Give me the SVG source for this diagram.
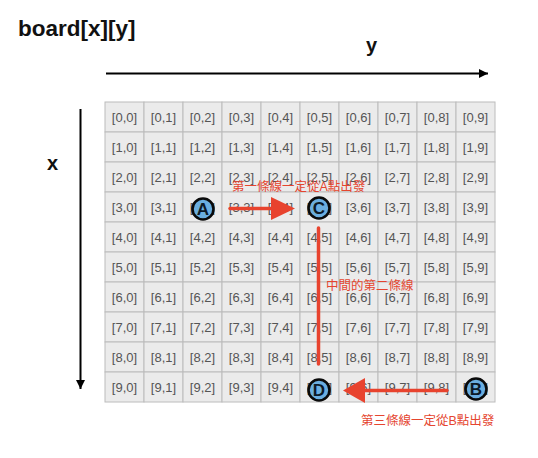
<svg xmlns="http://www.w3.org/2000/svg" width="538" height="458" viewBox="0 0 538 458">
<style>
.cell{fill:#ebebeb;stroke:#bcbcbc;stroke-width:1}
.ct{font-family:"Liberation Sans",Arial,sans-serif;font-size:13px;fill:#555;text-anchor:middle}
.ttl{font-family:"Liberation Sans",Arial,sans-serif;font-weight:bold;fill:#111}
.ax{stroke:#000;stroke-width:2;fill:none}
.node circle{fill:#6aaee0;stroke:#0a0a0a;stroke-width:2.6}
.node text{font-family:"Liberation Sans",Arial,sans-serif;font-weight:bold;font-size:17px;fill:#0c1a28;text-anchor:middle}
.red{stroke:#e8432e;stroke-width:3.5;fill:none;stroke-linecap:round}
.rh{fill:#e8432e}
.rt{font-family:"Liberation Sans","Noto Sans CJK TC",sans-serif;font-size:12.5px;fill:#e5452f}
</style>
<defs>
<marker id="ah" markerWidth="10" markerHeight="10" refX="9" refY="4.5" orient="auto" markerUnits="userSpaceOnUse"><path d="M0,0 L9,4.5 L0,9 Z" fill="#000"/></marker>
</defs>
<rect width="538" height="458" fill="#fff"/>
<text class="ttl" x="18" y="36" font-size="22.5">board[x][y]</text>
<text class="ttl" x="366" y="52" font-size="20">y</text>
<text class="ttl" x="47" y="170" font-size="20">x</text>
<line class="ax" x1="106" y1="73.5" x2="488" y2="73.5" marker-end="url(#ah)"/>
<line class="ax" x1="80.5" y1="109" x2="80.5" y2="389" marker-end="url(#ah)"/>
<g id="grid">
<g id="row0"><rect class="cell" x="105" y="102" width="39" height="30"/><text class="ct" x="124.5" y="122">[0,0]</text><rect class="cell" x="144" y="102" width="39" height="30"/><text class="ct" x="163.5" y="122">[0,1]</text><rect class="cell" x="183" y="102" width="39" height="30"/><text class="ct" x="202.5" y="122">[0,2]</text><rect class="cell" x="222" y="102" width="39" height="30"/><text class="ct" x="241.5" y="122">[0,3]</text><rect class="cell" x="261" y="102" width="39" height="30"/><text class="ct" x="280.5" y="122">[0,4]</text><rect class="cell" x="300" y="102" width="39" height="30"/><text class="ct" x="319.5" y="122">[0,5]</text><rect class="cell" x="339" y="102" width="39" height="30"/><text class="ct" x="358.5" y="122">[0,6]</text><rect class="cell" x="378" y="102" width="39" height="30"/><text class="ct" x="397.5" y="122">[0,7]</text><rect class="cell" x="417" y="102" width="39" height="30"/><text class="ct" x="436.5" y="122">[0,8]</text><rect class="cell" x="456" y="102" width="39" height="30"/><text class="ct" x="475.5" y="122">[0,9]</text></g>
<g id="row1"><rect class="cell" x="105" y="132" width="39" height="30"/><text class="ct" x="124.5" y="152">[1,0]</text><rect class="cell" x="144" y="132" width="39" height="30"/><text class="ct" x="163.5" y="152">[1,1]</text><rect class="cell" x="183" y="132" width="39" height="30"/><text class="ct" x="202.5" y="152">[1,2]</text><rect class="cell" x="222" y="132" width="39" height="30"/><text class="ct" x="241.5" y="152">[1,3]</text><rect class="cell" x="261" y="132" width="39" height="30"/><text class="ct" x="280.5" y="152">[1,4]</text><rect class="cell" x="300" y="132" width="39" height="30"/><text class="ct" x="319.5" y="152">[1,5]</text><rect class="cell" x="339" y="132" width="39" height="30"/><text class="ct" x="358.5" y="152">[1,6]</text><rect class="cell" x="378" y="132" width="39" height="30"/><text class="ct" x="397.5" y="152">[1,7]</text><rect class="cell" x="417" y="132" width="39" height="30"/><text class="ct" x="436.5" y="152">[1,8]</text><rect class="cell" x="456" y="132" width="39" height="30"/><text class="ct" x="475.5" y="152">[1,9]</text></g>
<g id="row2"><rect class="cell" x="105" y="162" width="39" height="30"/><text class="ct" x="124.5" y="182">[2,0]</text><rect class="cell" x="144" y="162" width="39" height="30"/><text class="ct" x="163.5" y="182">[2,1]</text><rect class="cell" x="183" y="162" width="39" height="30"/><text class="ct" x="202.5" y="182">[2,2]</text><rect class="cell" x="222" y="162" width="39" height="30"/><text class="ct" x="241.5" y="182">[2,3]</text><rect class="cell" x="261" y="162" width="39" height="30"/><text class="ct" x="280.5" y="182">[2,4]</text><rect class="cell" x="300" y="162" width="39" height="30"/><text class="ct" x="319.5" y="182">[2,5]</text><rect class="cell" x="339" y="162" width="39" height="30"/><text class="ct" x="358.5" y="182">[2,6]</text><rect class="cell" x="378" y="162" width="39" height="30"/><text class="ct" x="397.5" y="182">[2,7]</text><rect class="cell" x="417" y="162" width="39" height="30"/><text class="ct" x="436.5" y="182">[2,8]</text><rect class="cell" x="456" y="162" width="39" height="30"/><text class="ct" x="475.5" y="182">[2,9]</text></g>
<g id="row3"><rect class="cell" x="105" y="192" width="39" height="30"/><text class="ct" x="124.5" y="212">[3,0]</text><rect class="cell" x="144" y="192" width="39" height="30"/><text class="ct" x="163.5" y="212">[3,1]</text><rect class="cell" x="183" y="192" width="39" height="30"/><text class="ct" x="202.5" y="212">[3,2]</text><rect class="cell" x="222" y="192" width="39" height="30"/><text class="ct" x="241.5" y="212">[3,3]</text><rect class="cell" x="261" y="192" width="39" height="30"/><text class="ct" x="280.5" y="212">[3,4]</text><rect class="cell" x="300" y="192" width="39" height="30"/><text class="ct" x="319.5" y="212">[3,5]</text><rect class="cell" x="339" y="192" width="39" height="30"/><text class="ct" x="358.5" y="212">[3,6]</text><rect class="cell" x="378" y="192" width="39" height="30"/><text class="ct" x="397.5" y="212">[3,7]</text><rect class="cell" x="417" y="192" width="39" height="30"/><text class="ct" x="436.5" y="212">[3,8]</text><rect class="cell" x="456" y="192" width="39" height="30"/><text class="ct" x="475.5" y="212">[3,9]</text></g>
<g id="row4"><rect class="cell" x="105" y="222" width="39" height="30"/><text class="ct" x="124.5" y="242">[4,0]</text><rect class="cell" x="144" y="222" width="39" height="30"/><text class="ct" x="163.5" y="242">[4,1]</text><rect class="cell" x="183" y="222" width="39" height="30"/><text class="ct" x="202.5" y="242">[4,2]</text><rect class="cell" x="222" y="222" width="39" height="30"/><text class="ct" x="241.5" y="242">[4,3]</text><rect class="cell" x="261" y="222" width="39" height="30"/><text class="ct" x="280.5" y="242">[4,4]</text><rect class="cell" x="300" y="222" width="39" height="30"/><text class="ct" x="319.5" y="242">[4,5]</text><rect class="cell" x="339" y="222" width="39" height="30"/><text class="ct" x="358.5" y="242">[4,6]</text><rect class="cell" x="378" y="222" width="39" height="30"/><text class="ct" x="397.5" y="242">[4,7]</text><rect class="cell" x="417" y="222" width="39" height="30"/><text class="ct" x="436.5" y="242">[4,8]</text><rect class="cell" x="456" y="222" width="39" height="30"/><text class="ct" x="475.5" y="242">[4,9]</text></g>
<g id="row5"><rect class="cell" x="105" y="252" width="39" height="30"/><text class="ct" x="124.5" y="272">[5,0]</text><rect class="cell" x="144" y="252" width="39" height="30"/><text class="ct" x="163.5" y="272">[5,1]</text><rect class="cell" x="183" y="252" width="39" height="30"/><text class="ct" x="202.5" y="272">[5,2]</text><rect class="cell" x="222" y="252" width="39" height="30"/><text class="ct" x="241.5" y="272">[5,3]</text><rect class="cell" x="261" y="252" width="39" height="30"/><text class="ct" x="280.5" y="272">[5,4]</text><rect class="cell" x="300" y="252" width="39" height="30"/><text class="ct" x="319.5" y="272">[5,5]</text><rect class="cell" x="339" y="252" width="39" height="30"/><text class="ct" x="358.5" y="272">[5,6]</text><rect class="cell" x="378" y="252" width="39" height="30"/><text class="ct" x="397.5" y="272">[5,7]</text><rect class="cell" x="417" y="252" width="39" height="30"/><text class="ct" x="436.5" y="272">[5,8]</text><rect class="cell" x="456" y="252" width="39" height="30"/><text class="ct" x="475.5" y="272">[5,9]</text></g>
<g id="row6"><rect class="cell" x="105" y="282" width="39" height="30"/><text class="ct" x="124.5" y="302">[6,0]</text><rect class="cell" x="144" y="282" width="39" height="30"/><text class="ct" x="163.5" y="302">[6,1]</text><rect class="cell" x="183" y="282" width="39" height="30"/><text class="ct" x="202.5" y="302">[6,2]</text><rect class="cell" x="222" y="282" width="39" height="30"/><text class="ct" x="241.5" y="302">[6,3]</text><rect class="cell" x="261" y="282" width="39" height="30"/><text class="ct" x="280.5" y="302">[6,4]</text><rect class="cell" x="300" y="282" width="39" height="30"/><text class="ct" x="319.5" y="302">[6,5]</text><rect class="cell" x="339" y="282" width="39" height="30"/><text class="ct" x="358.5" y="302">[6,6]</text><rect class="cell" x="378" y="282" width="39" height="30"/><text class="ct" x="397.5" y="302">[6,7]</text><rect class="cell" x="417" y="282" width="39" height="30"/><text class="ct" x="436.5" y="302">[6,8]</text><rect class="cell" x="456" y="282" width="39" height="30"/><text class="ct" x="475.5" y="302">[6,9]</text></g>
<g id="row7"><rect class="cell" x="105" y="312" width="39" height="30"/><text class="ct" x="124.5" y="332">[7,0]</text><rect class="cell" x="144" y="312" width="39" height="30"/><text class="ct" x="163.5" y="332">[7,1]</text><rect class="cell" x="183" y="312" width="39" height="30"/><text class="ct" x="202.5" y="332">[7,2]</text><rect class="cell" x="222" y="312" width="39" height="30"/><text class="ct" x="241.5" y="332">[7,3]</text><rect class="cell" x="261" y="312" width="39" height="30"/><text class="ct" x="280.5" y="332">[7,4]</text><rect class="cell" x="300" y="312" width="39" height="30"/><text class="ct" x="319.5" y="332">[7,5]</text><rect class="cell" x="339" y="312" width="39" height="30"/><text class="ct" x="358.5" y="332">[7,6]</text><rect class="cell" x="378" y="312" width="39" height="30"/><text class="ct" x="397.5" y="332">[7,7]</text><rect class="cell" x="417" y="312" width="39" height="30"/><text class="ct" x="436.5" y="332">[7,8]</text><rect class="cell" x="456" y="312" width="39" height="30"/><text class="ct" x="475.5" y="332">[7,9]</text></g>
<g id="row8"><rect class="cell" x="105" y="342" width="39" height="30"/><text class="ct" x="124.5" y="362">[8,0]</text><rect class="cell" x="144" y="342" width="39" height="30"/><text class="ct" x="163.5" y="362">[8,1]</text><rect class="cell" x="183" y="342" width="39" height="30"/><text class="ct" x="202.5" y="362">[8,2]</text><rect class="cell" x="222" y="342" width="39" height="30"/><text class="ct" x="241.5" y="362">[8,3]</text><rect class="cell" x="261" y="342" width="39" height="30"/><text class="ct" x="280.5" y="362">[8,4]</text><rect class="cell" x="300" y="342" width="39" height="30"/><text class="ct" x="319.5" y="362">[8,5]</text><rect class="cell" x="339" y="342" width="39" height="30"/><text class="ct" x="358.5" y="362">[8,6]</text><rect class="cell" x="378" y="342" width="39" height="30"/><text class="ct" x="397.5" y="362">[8,7]</text><rect class="cell" x="417" y="342" width="39" height="30"/><text class="ct" x="436.5" y="362">[8,8]</text><rect class="cell" x="456" y="342" width="39" height="30"/><text class="ct" x="475.5" y="362">[8,9]</text></g>
<g id="row9"><rect class="cell" x="105" y="372" width="39" height="30"/><text class="ct" x="124.5" y="392">[9,0]</text><rect class="cell" x="144" y="372" width="39" height="30"/><text class="ct" x="163.5" y="392">[9,1]</text><rect class="cell" x="183" y="372" width="39" height="30"/><text class="ct" x="202.5" y="392">[9,2]</text><rect class="cell" x="222" y="372" width="39" height="30"/><text class="ct" x="241.5" y="392">[9,3]</text><rect class="cell" x="261" y="372" width="39" height="30"/><text class="ct" x="280.5" y="392">[9,4]</text><rect class="cell" x="300" y="372" width="39" height="30"/><text class="ct" x="319.5" y="392">[9,5]</text><rect class="cell" x="339" y="372" width="39" height="30"/><text class="ct" x="358.5" y="392">[9,6]</text><rect class="cell" x="378" y="372" width="39" height="30"/><text class="ct" x="397.5" y="392">[9,7]</text><rect class="cell" x="417" y="372" width="39" height="30"/><text class="ct" x="436.5" y="392">[9,8]</text><rect class="cell" x="456" y="372" width="39" height="30"/><text class="ct" x="475.5" y="392">[9,9]</text></g>
</g>
<g id="connectors">
<g id="line1"><line class="red" x1="230" y1="208.5" x2="275" y2="208.5"/><polygon class="rh" points="271,197 295,208.5 271,220"/></g>
<line id="line2" class="red" x1="318.5" y1="228" x2="318.5" y2="364"/>
<g id="line3"><line class="red" x1="447" y1="390.5" x2="362" y2="390.5"/><polygon class="rh" points="365,378 343,390.5 365,403"/></g>
</g>
<text class="rt" x="232" y="191">第一條線一定從A點出發</text>
<text class="rt" x="326" y="289.5">中間的第二條線</text>
<text class="rt" x="361" y="424.5">第三條線一定從B點出發</text>
<g id="nodeA" class="node"><circle cx="203" cy="209" r="10.5"/><text x="203" y="215">A</text></g>
<g id="nodeC" class="node"><circle cx="319" cy="208" r="10.5"/><text x="319" y="214">C</text></g>
<g id="nodeD" class="node"><circle cx="319" cy="390" r="10.5"/><text x="319" y="396">D</text></g>
<g id="nodeB" class="node"><circle cx="476" cy="389" r="10.5"/><text x="476" y="395">B</text></g>
</svg>
